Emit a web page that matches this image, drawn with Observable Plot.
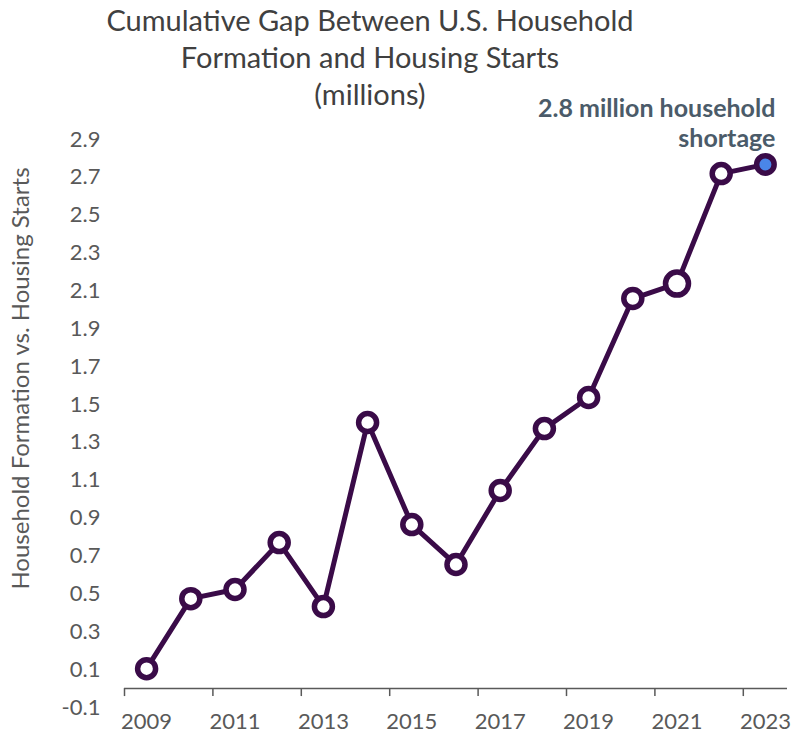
<!DOCTYPE html>
<html>
<head>
<meta charset="utf-8">
<script src="https://cdn.jsdelivr.net/npm/d3@7"></script>
<script src="https://cdn.jsdelivr.net/npm/@observablehq/plot@0.6"></script>
<style>
  html, body { margin: 0; padding: 0; background: #fff; }
  #wrap { position: relative; width: 794px; height: 736px; font-family: Lato, "Open Sans", sans-serif; }
  #title { position: absolute; left: 0; top: 1px; width: 740px; text-align: center;
           font-size: 29px; line-height: 37px; color: #404040; font-weight: 400; }
  #chart { position: absolute; left: 0; top: 0; }
</style>
</head>
<body>
<div id="wrap">
  <div id="chart"></div>
  <div id="title">Cumulative Gap Between U.S. Household<br>Formation and Housing Starts<br>(millions)</div>
</div>
<script>
const years = [2009, 2010, 2011, 2012, 2013, 2014, 2015, 2016, 2017, 2018, 2019, 2020, 2021, 2022, 2023];
const gap = [0.105, 0.475, 0.523, 0.771, 0.433, 1.405, 0.866, 0.655, 1.046, 1.373, 1.537, 2.06, 2.139, 2.72, 2.768];
const yTicks = [-0.1, 0.1, 0.3, 0.5, 0.7, 0.9, 1.1, 1.3, 1.5, 1.7, 1.9, 2.1, 2.3, 2.5, 2.7, 2.9];
const xLabelYears = [2009, 2011, 2013, 2015, 2017, 2019, 2021, 2023];
const xTickBoundaries = [2008.5, 2010.5, 2012.5, 2014.5, 2016.5, 2018.5, 2020.5, 2022.5];
const highlightYear = 2021;
const lastYear = 2023;
const annotation = "2.8 million household\nshortage";
const yLabel = "Household Formation vs. Housing Starts";

const data = years.map((y, i) => ({year: y, value: gap[i]}));
const lineColor = "#3a0b48";
const axisColor = "#595959";

const plot = Plot.plot({
  width: 794,
  height: 736,
  marginLeft: 124,
  marginRight: 7,
  marginTop: 139,
  marginBottom: 29,
  style: {fontFamily: "Lato, 'Open Sans', sans-serif", background: "transparent", overflow: "visible"},
  x: {type: "linear", domain: [2008.5, 2023.5]},
  y: {domain: [-0.1, 2.9]},
  marks: [
    Plot.ruleY([0], {stroke: axisColor, strokeWidth: 1.5}),
    Plot.ruleX(xTickBoundaries, {x: d => d, y1: 0, y2: 0, stroke: axisColor, strokeWidth: 1.5, insetBottom: -8}),
    Plot.axisX({ticks: xLabelYears, tickSize: 0, tickPadding: 6, tickFormat: d => String(d), fontSize: 22, color: axisColor, label: null}),
    Plot.axisY({ticks: yTicks, tickSize: 0, tickPadding: 24, tickFormat: d => d.toFixed(1), fontSize: 22, color: axisColor, label: null}),
    Plot.text([yLabel], {frameAnchor: "left", textAnchor: "middle", dx: -103, dy: -45, rotate: -90, fontSize: 24, fill: axisColor, text: d => d}),
    Plot.line(data, {x: "year", y: "value", stroke: lineColor, strokeWidth: 5, strokeLinejoin: "round"}),
    Plot.dot(data.filter(d => d.year !== highlightYear && d.year !== lastYear), {x: "year", y: "value", r: 9, fill: "white", stroke: lineColor, strokeWidth: 5.5}),
    Plot.dot(data.filter(d => d.year === highlightYear), {x: "year", y: "value", r: 11.5, fill: "white", stroke: lineColor, strokeWidth: 5.5}),
    Plot.dot(data.filter(d => d.year === lastYear), {x: "year", y: "value", r: 8.75, fill: "#4a86e8", stroke: lineColor, strokeWidth: 5.5}),
    Plot.text(data.filter(d => d.year === lastYear), {x: "year", y: "value", text: () => annotation, textAnchor: "end", lineAnchor: "bottom", dx: 10, dy: -17, fontSize: 25, fontWeight: "bold", fill: "#4b5b69", lineHeight: 1.2})
  ]
});
document.getElementById("chart").appendChild(plot);
</script>
</body>
</html>
